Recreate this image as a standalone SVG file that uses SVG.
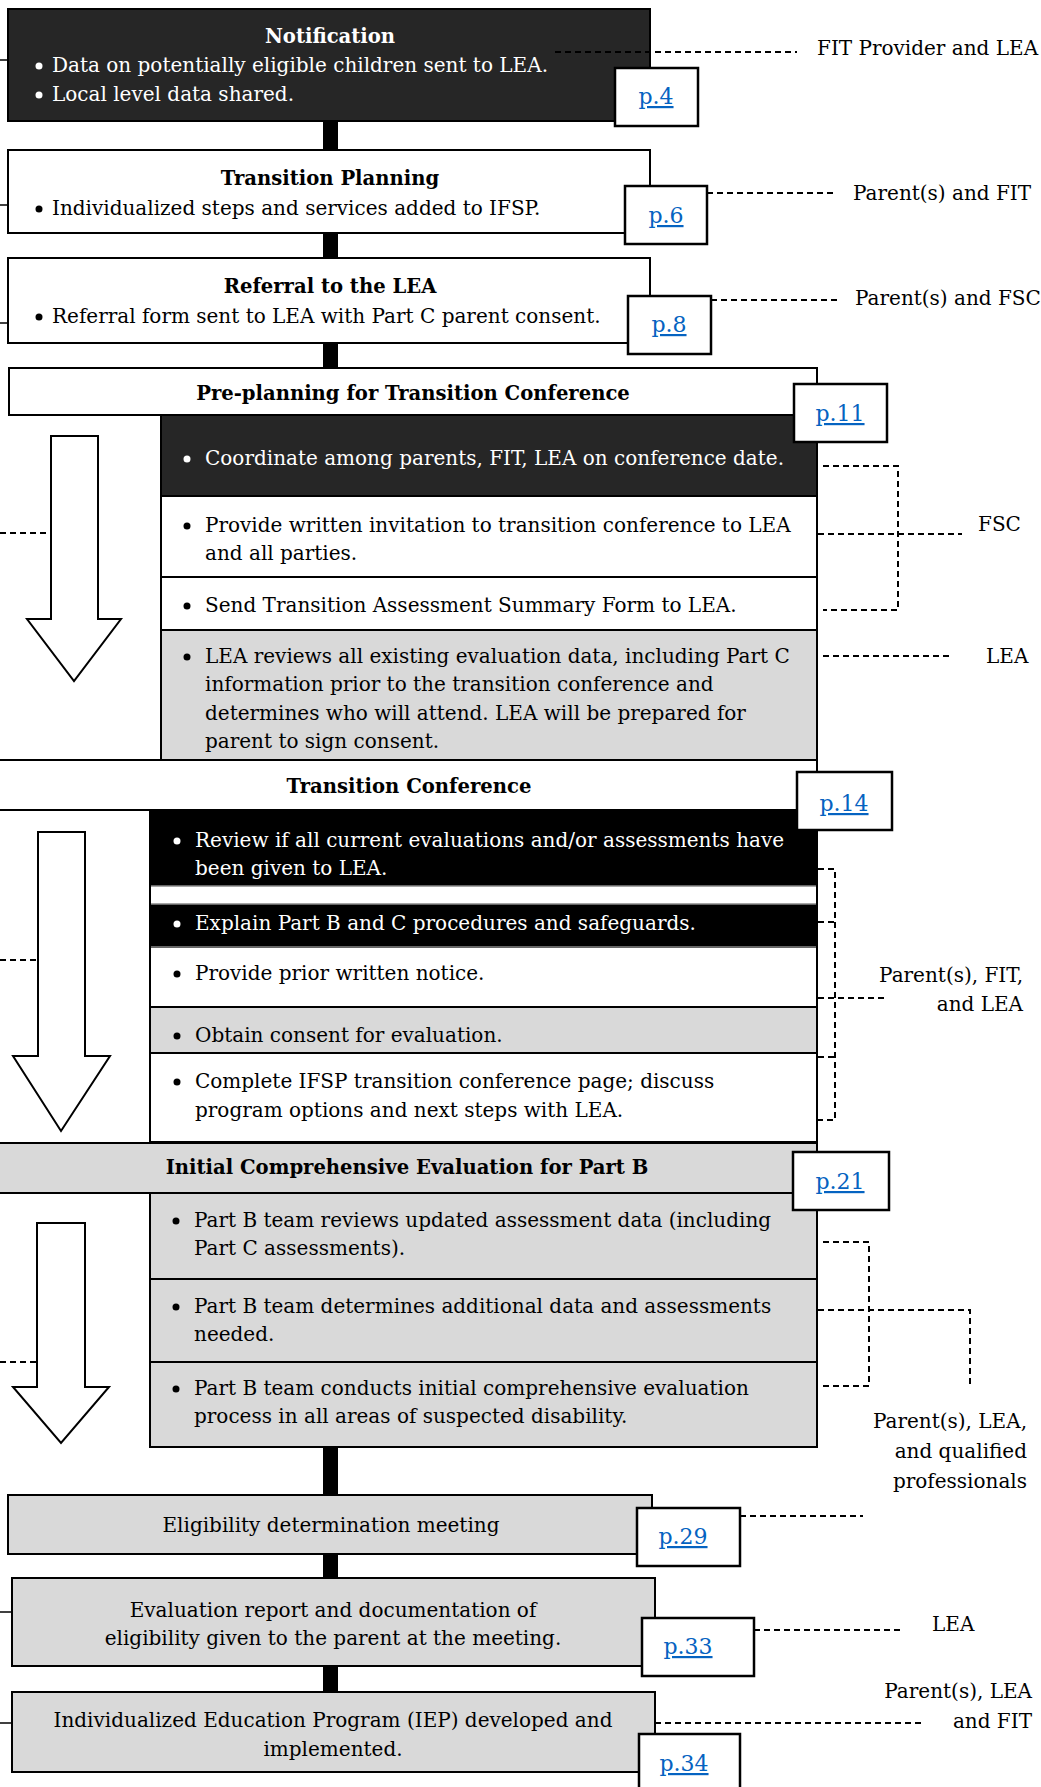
<svg xmlns="http://www.w3.org/2000/svg" width="1041" height="1787" viewBox="0 0 1041 1787">
<style>
text{font-family:"DejaVu Serif","Liberation Serif",serif;font-size:20px;fill:#000}
.b{font-weight:bold;font-size:19.6px}
.w{fill:#fff}
.c{text-anchor:middle}
.r{text-anchor:end}
.lbl{font-size:20px}
.lk{fill:#0563c1;text-decoration:underline;font-size:22px;text-anchor:middle}
.box{stroke:#000;stroke-width:2}
.dk{fill:#262626}
.bk{fill:#000}
.gy{fill:#d9d9d9}
.wh{fill:#fff}
.pg{fill:#fff;stroke:#000;stroke-width:2.5}
.ds{stroke:#000;stroke-width:2;stroke-dasharray:6 4;fill:none}
.sl{stroke:#000;stroke-width:1.5;fill:none}
.arr{fill:#fff;stroke:#000;stroke-width:2}
</style>
<g id="notification">
<rect class="box dk" x="8" y="9" width="642" height="112"/>
<text class="b w c" x="330" y="43">Notification</text>
<circle cx="39" cy="66" r="3.5" fill="#fff"/>
<text class="w" x="52" y="72">Data on potentially eligible children sent to LEA.</text>
<circle cx="39" cy="95" r="3.5" fill="#fff"/>
<text class="w" x="52" y="101">Local level data shared.</text>
</g>
<g id="p4"><rect class="pg" x="615" y="68" width="83" height="58"/><text class="lk" x="656" y="104">p.4</text></g>
<text class="lbl" x="817" y="55">FIT Provider and LEA</text>
<g id="transition-planning">
<rect class="box wh" x="8" y="150" width="642" height="83"/>
<text class="b c" x="330" y="185">Transition Planning</text>
<circle cx="39" cy="209" r="3.5"/>
<text x="52" y="215">Individualized steps and services added to IFSP.</text>
</g>
<g id="p6"><rect class="pg" x="625" y="186" width="82" height="58"/><text class="lk" x="666" y="223">p.6</text></g>
<text class="lbl" x="853" y="200">Parent(s) and FIT</text>
<g id="referral">
<rect class="box wh" x="8" y="258" width="642" height="85"/>
<text class="b c" x="330" y="293">Referral to the LEA</text>
<circle cx="39" cy="317" r="3.5"/>
<text x="52" y="323">Referral form sent to LEA with Part C parent consent.</text>
</g>
<g id="p8"><rect class="pg" x="628" y="296" width="83" height="58"/><text class="lk" x="669" y="332">p.8</text></g>
<text class="lbl" x="855" y="305">Parent(s) and FSC</text>
<g id="preplanning">
<rect class="box wh" x="9" y="368" width="808" height="47"/>
<text class="b c" x="413" y="400">Pre-planning for Transition Conference</text>
<rect class="box dk" x="161" y="415" width="656" height="81"/>
<circle cx="187" cy="459" r="3.5" fill="#fff"/>
<text class="w" x="205" y="465">Coordinate among parents, FIT, LEA on conference date.</text>
<rect class="box wh" x="161" y="496" width="656" height="81"/>
<circle cx="187" cy="526" r="3.5"/>
<text x="205" y="532">Provide written invitation to transition conference to LEA</text>
<text x="205" y="560">and all parties.</text>
<rect class="box wh" x="161" y="577" width="656" height="53"/>
<circle cx="187" cy="606" r="3.5"/>
<text x="205" y="612">Send Transition Assessment Summary Form to LEA.</text>
<rect class="box gy" x="161" y="630" width="656" height="130"/>
<circle cx="187" cy="657" r="3.5"/>
<text x="205" y="663">LEA reviews all existing evaluation data, including Part C</text>
<text x="205" y="691">information prior to the transition conference and</text>
<text x="205" y="720">determines who will attend. LEA will be prepared for</text>
<text x="205" y="748">parent to sign consent.</text>
<path class="arr" d="M51 436H98V619H121L74 681L27 619H51Z"/>
</g>
<g id="p11"><rect class="pg" x="794" y="384" width="93" height="58"/><text class="lk" x="840" y="421">p.11</text></g>
<text class="lbl" x="978" y="531">FSC</text>
<text class="lbl" x="986" y="663">LEA</text>
<g id="transition-conference">
<rect class="box wh" x="-2" y="760" width="819" height="50"/>
<text class="b c" x="409" y="793">Transition Conference</text>
<rect class="box wh" x="150" y="810" width="667" height="332"/>
<rect class="bk" x="150" y="810" width="667" height="76"/>
<rect class="bk" x="150" y="904" width="667" height="43"/>
<line x1="150" y1="886" x2="817" y2="886" stroke="#888" stroke-width="1.5"/>
<line x1="150" y1="904" x2="817" y2="904" stroke="#888" stroke-width="1.5"/>
<rect class="box gy" x="150" y="1007" width="667" height="46"/>
<line x1="150" y1="947" x2="817" y2="947" stroke="#666" stroke-width="2"/>
<rect class="box" x="150" y="810" width="667" height="332" fill="none"/>
<circle cx="177" cy="841" r="3.5" fill="#fff"/>
<text class="w" x="195" y="847">Review if all current evaluations and/or assessments have</text>
<text class="w" x="195" y="875">been given to LEA.</text>
<circle cx="177" cy="924" r="3.5" fill="#fff"/>
<text class="w" x="195" y="930">Explain Part B and C procedures and safeguards.</text>
<circle cx="177" cy="974" r="3.5"/>
<text x="195" y="980">Provide prior written notice.</text>
<circle cx="177" cy="1036" r="3.5"/>
<text x="195" y="1042">Obtain consent for evaluation.</text>
<circle cx="177" cy="1082" r="3.5"/>
<text x="195" y="1088">Complete IFSP transition conference page; discuss</text>
<text x="195" y="1117">program options and next steps with LEA.</text>
<path class="arr" d="M38 832H85V1056H110L61 1131L13 1056H38Z"/>
</g>
<g id="p14"><rect class="pg" x="797" y="772" width="95" height="58"/><text class="lk" x="844" y="811">p.14</text></g>
<text class="lbl r" x="1023" y="982">Parent(s), FIT,</text>
<text class="lbl r" x="1023" y="1011">and LEA</text>
<g id="initial-evaluation">
<rect class="box gy" x="-2" y="1143" width="819" height="50"/>
<text class="b c" x="407" y="1174">Initial Comprehensive Evaluation for Part B</text>
<rect class="box gy" x="150" y="1193" width="667" height="86"/>
<rect class="box gy" x="150" y="1279" width="667" height="83"/>
<rect class="box gy" x="150" y="1362" width="667" height="85"/>
<circle cx="176" cy="1221" r="3.5"/>
<text x="194" y="1227">Part B team reviews updated assessment data (including</text>
<text x="194" y="1255">Part C assessments).</text>
<circle cx="176" cy="1307" r="3.5"/>
<text x="194" y="1313">Part B team determines additional data and assessments</text>
<text x="194" y="1341">needed.</text>
<circle cx="176" cy="1389" r="3.5"/>
<text x="194" y="1395">Part B team conducts initial comprehensive evaluation</text>
<text x="194" y="1423">process in all areas of suspected disability.</text>
<path class="arr" d="M37 1223H85V1387H109L61 1443L13 1387H37Z"/>
</g>
<g id="p21"><rect class="pg" x="793" y="1152" width="96" height="58"/><text class="lk" x="840" y="1189">p.21</text></g>
<text class="lbl r" x="1027" y="1428">Parent(s), LEA,</text>
<text class="lbl r" x="1027" y="1458">and qualified</text>
<text class="lbl r" x="1027" y="1488">professionals</text>
<g id="eligibility">
<rect class="box gy" x="8" y="1495" width="644" height="59"/>
<text class="c" x="331" y="1532">Eligibility determination meeting</text>
</g>
<g id="p29"><rect class="pg" x="637" y="1508" width="103" height="58"/><text class="lk" x="683" y="1544">p.29</text></g>
<g id="evaluation-report">
<rect class="box gy" x="12" y="1578" width="643" height="88"/>
<text class="c" x="333" y="1617">Evaluation report and documentation of</text>
<text class="c" x="333" y="1645">eligibility given to the parent at the meeting.</text>
</g>
<g id="p33"><rect class="pg" x="642" y="1618" width="112" height="58"/><text class="lk" x="688" y="1654">p.33</text></g>
<text class="lbl" x="932" y="1631">LEA</text>
<g id="iep">
<rect class="box gy" x="12" y="1692" width="643" height="80"/>
<text class="c" x="333" y="1727">Individualized Education Program (IEP) developed and</text>
<text class="c" x="333" y="1756">implemented.</text>
</g>
<g id="p34"><rect class="pg" x="639" y="1734" width="101" height="60"/><text class="lk" x="684" y="1771">p.34</text></g>
<text class="lbl r" x="1032" y="1698">Parent(s), LEA</text>
<text class="lbl r" x="1032" y="1728">and FIT</text>
<g id="connectors">
<rect x="323" y="121" width="15" height="29" fill="#000"/>
<rect x="323" y="233" width="15" height="25" fill="#000"/>
<rect x="323" y="343" width="15" height="25" fill="#000"/>
<rect x="323" y="1447" width="15" height="48" fill="#000"/>
<rect x="323" y="1554" width="15" height="24" fill="#000"/>
<rect x="323" y="1666" width="15" height="26" fill="#000"/>
<line class="sl" x1="0" y1="60" x2="8" y2="60"/>
<line class="sl" x1="0" y1="205" x2="8" y2="205"/>
<line class="sl" x1="0" y1="323" x2="8" y2="323"/>
<line class="sl" x1="0" y1="1612" x2="12" y2="1612"/>
<line class="sl" x1="0" y1="1723" x2="12" y2="1723"/>
<line class="ds" x1="555" y1="52" x2="797" y2="52"/>
<line class="ds" x1="707" y1="193" x2="835" y2="193"/>
<line class="ds" x1="711" y1="300" x2="840" y2="300"/>
<line class="ds" x1="0" y1="533" x2="51" y2="533"/>
<path class="ds" d="M823 466H898V610H823"/>
<line class="ds" x1="818" y1="534" x2="962" y2="534"/>
<line class="ds" x1="823" y1="656" x2="953" y2="656"/>
<line class="ds" x1="0" y1="960" x2="38" y2="960"/>
<path class="ds" d="M818 869H835V1120H818M818 922H835M818 1057H835"/>
<line class="ds" x1="818" y1="998" x2="888" y2="998"/>
<line class="ds" x1="0" y1="1362" x2="37" y2="1362"/>
<path class="ds" d="M823 1242H869V1386H823"/>
<path class="ds" d="M818 1310H970V1385"/>
<line class="ds" x1="740" y1="1516" x2="863" y2="1516"/>
<line class="ds" x1="754" y1="1630" x2="903" y2="1630"/>
<line class="ds" x1="655" y1="1723" x2="923" y2="1723"/>
</g>
</svg>
